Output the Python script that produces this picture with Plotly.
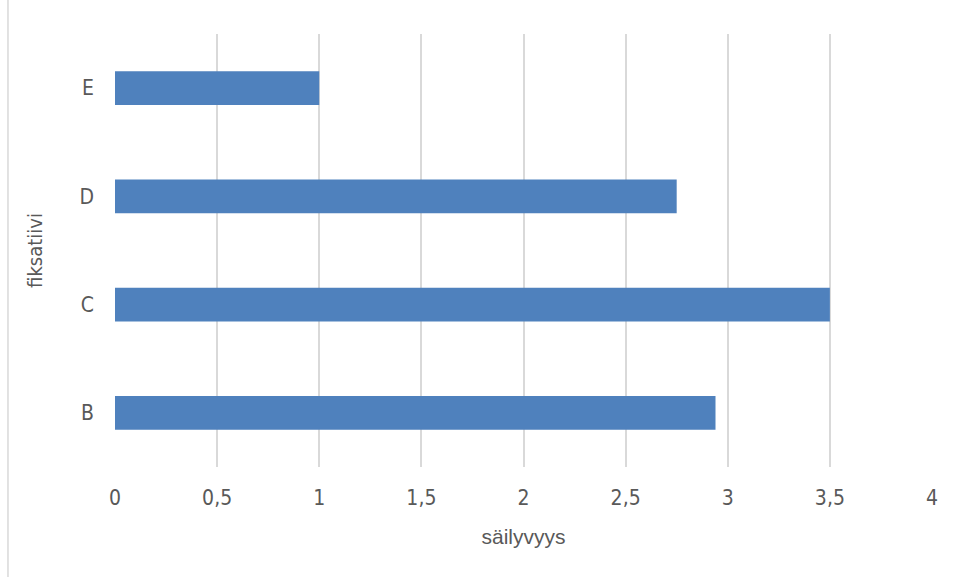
import plotly.graph_objects as go

categories = ["B", "C", "D", "E"]
values = [2.94, 3.5, 2.75, 1.0]
x_ticks = [0, 0.5, 1, 1.5, 2, 2.5, 3, 3.5, 4]
x_tick_labels = ["0", "0,5", "1", "1,5", "2", "2,5", "3", "3,5", "4"]
x_title = "säilyvyys"
y_title = "fiksatiivi"

fig = go.Figure(go.Bar(
    x=values, y=categories, orientation="h",
    marker=dict(color="#4F81BD", line=dict(width=0)),
))

narrow = "DejaVu Sans Condensed, Liberation Sans Narrow, Liberation Sans, sans-serif"

fig.update_layout(
    width=957, height=577,
    margin=dict(l=115, r=25, t=34, b=110),
    paper_bgcolor="white", plot_bgcolor="white",
    bargap=0.69,
    showlegend=False,
    xaxis=dict(
        range=[0, 4], tickvals=x_ticks, ticktext=x_tick_labels,
        showgrid=True, gridcolor="#D9D9D9", gridwidth=1.7,
        zeroline=False, showline=False, ticks="",
        ticklabelstandoff=16,
        tickfont=dict(family=narrow, size=21, color="#595959"),
        title=dict(text=x_title, standoff=20,
                   font=dict(family="Liberation Sans, Arial, sans-serif", size=21, color="#595959")),
    ),
    yaxis=dict(
        showgrid=False, zeroline=False, showline=False, ticks="",
        ticklabelstandoff=20,
        tickfont=dict(family=narrow, size=21, color="#595959"),
        title=dict(text=y_title, standoff=31,
                   font=dict(family=narrow, size=20, color="#595959")),
    ),
    shapes=[dict(type="line", xref="paper", yref="paper",
                 x0=-0.131, x1=-0.131, y0=-0.3, y1=1.1,
                 line=dict(color="#D9D9D9", width=1.5))],
)

fig.write_html("out.html")
